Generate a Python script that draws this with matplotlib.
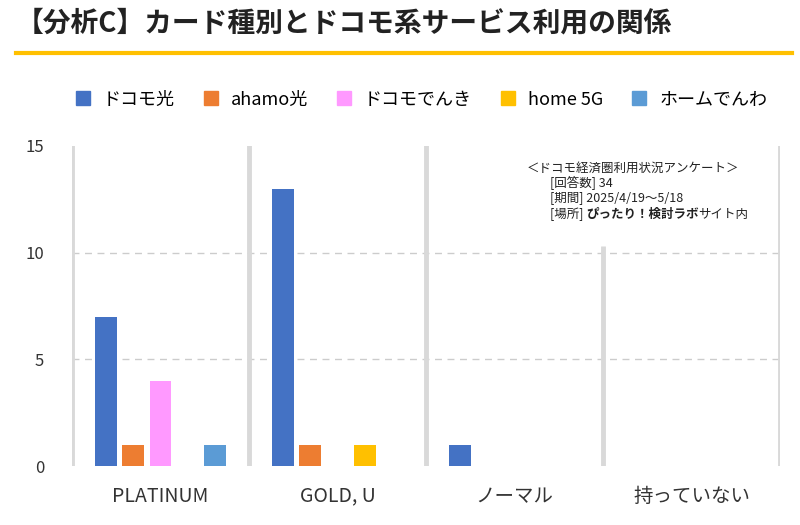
import numpy as np
import matplotlib.pyplot as plt
from matplotlib.lines import Line2D

plt.rcParams['font.family'] = 'Noto Sans CJK JP'

categories = ['PLATINUM', 'GOLD, U', 'ノーマル', '持っていない']
series = ['ドコモ光', 'ahamo光', 'ドコモでんき', 'home 5G', 'ホームでんわ']
values = [
    [7, 13, 1, 0],
    [1, 1, 0, 0],
    [4, 0, 0, 0],
    [0, 1, 0, 0],
    [1, 0, 0, 0],
]
colors = ['#4472C4', '#ED7D31', '#FF99FF', '#FFC000', '#5B9BD5']

fig = plt.figure(figsize=(8, 5.25), dpi=100)
ax = fig.add_axes([0.09, 0.112, 0.885, 0.61])

x = np.arange(len(categories))
step = 0.155
width = 0.124
for i, (name, vals, c) in enumerate(zip(series, values, colors)):
    ax.bar(x + (i - 2) * step, vals, width, color=c, label=name, zorder=3)

ax.set_xlim(-0.5, len(categories) - 0.5)
ax.set_ylim(0, 15)
ax.set_yticks([0, 5, 10, 15])
ax.tick_params(axis='y', length=0, labelsize=12, colors='#333333', pad=20)
ax.tick_params(axis='x', length=0, labelsize=14, colors='#333333', pad=14)
ax.set_xticks(x)
ax.set_xticklabels(categories)
for s in ax.spines.values():
    s.set_visible(False)
for yv in [5, 10]:
    ax.axhline(yv, color='#cccccc', lw=1, ls=(0, (5, 4)), zorder=1)
for b in [-0.5, 0.5, 1.5, 3.5]:
    ax.axvline(b, color='#d9d9d9', lw=3.5, zorder=2)
ax.vlines(2.5, 0, 10.3, color='#d9d9d9', lw=3.5, zorder=2)

ax.text(2.67, 14.25, '＜ドコモ経済圏利用状況アンケート＞', fontsize=9, va='top', ha='center', color='#222222')
ax.text(2.2, 13.6, '[回答数] 34\n[期間] 2025/4/19～5/18', fontsize=9, va='top', ha='left',
        color='#222222', linespacing=1.1)
t = ax.text(2.2, 12.1, '[場所] ', fontsize=9, va='top', ha='left', color='#222222')
t2 = ax.annotate('ぴったり！検討ラボ', xycoords=t, xy=(1, 0), va='bottom', fontsize=9,
                 fontweight='bold', color='#222222')
ax.annotate('サイト内', xycoords=t2, xy=(1, 0), va='bottom', fontsize=9, color='#222222')

handles = [Line2D([], [], marker='s', ls='', color=c, markersize=10) for c in colors]
fig.legend(handles, series, loc='center', bbox_to_anchor=(0.52, 0.81), ncol=5, frameon=False,
           fontsize=13, handletextpad=0.1, columnspacing=1.0)

fig.text(0.02, 0.955, '【分析C】カード種別とドコモ系サービス利用の関係', fontsize=20,
         fontweight='bold', va='center', ha='left', color='#222222')
fig.add_artist(Line2D([0.02, 0.99], [0.9, 0.9], color='#FFC000', lw=3))

fig.savefig('out.png', dpi=100)
